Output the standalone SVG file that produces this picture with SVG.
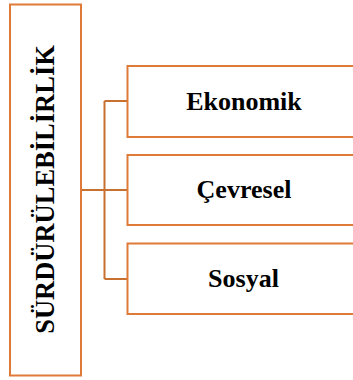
<svg xmlns="http://www.w3.org/2000/svg" width="353" height="380" viewBox="0 0 353 380">
<style>
.box{fill:#fff;stroke:#E07A38;stroke-width:2}
.con{fill:none;stroke:#C8702F;stroke-width:2}
.t{font-family:"Liberation Serif","Times New Roman",serif;font-weight:bold;fill:#000}
</style>
<rect width="353" height="380" fill="#fff"/>
<g id="connectors">
<path class="con" d="M81 190 H104.5 M104.5 101 V279 M104.5 101 H127.5 M104.5 279 H127.5 M104.5 190 H127.5"/>
</g>
<g id="main">
<rect class="box" x="10" y="4.5" width="71" height="371"/>
<text class="t" font-size="26.5" text-anchor="middle" transform="translate(54.3 189.5) rotate(-90)">SÜRDÜRÜLEBİLİRLİK</text>
</g>
<g id="ekonomik">
<rect class="box" x="127.5" y="66" width="240" height="71"/>
<text class="t" font-size="26" x="244" y="110" text-anchor="middle">Ekonomik</text>
</g>
<g id="cevresel">
<rect class="box" x="127.5" y="155" width="240" height="70"/>
<text class="t" font-size="26" x="244" y="198" text-anchor="middle">Çevresel</text>
</g>
<g id="sosyal">
<rect class="box" x="127.5" y="243.5" width="240" height="70.5"/>
<text class="t" font-size="26" x="243.5" y="287" text-anchor="middle">Sosyal</text>
</g>
</svg>
